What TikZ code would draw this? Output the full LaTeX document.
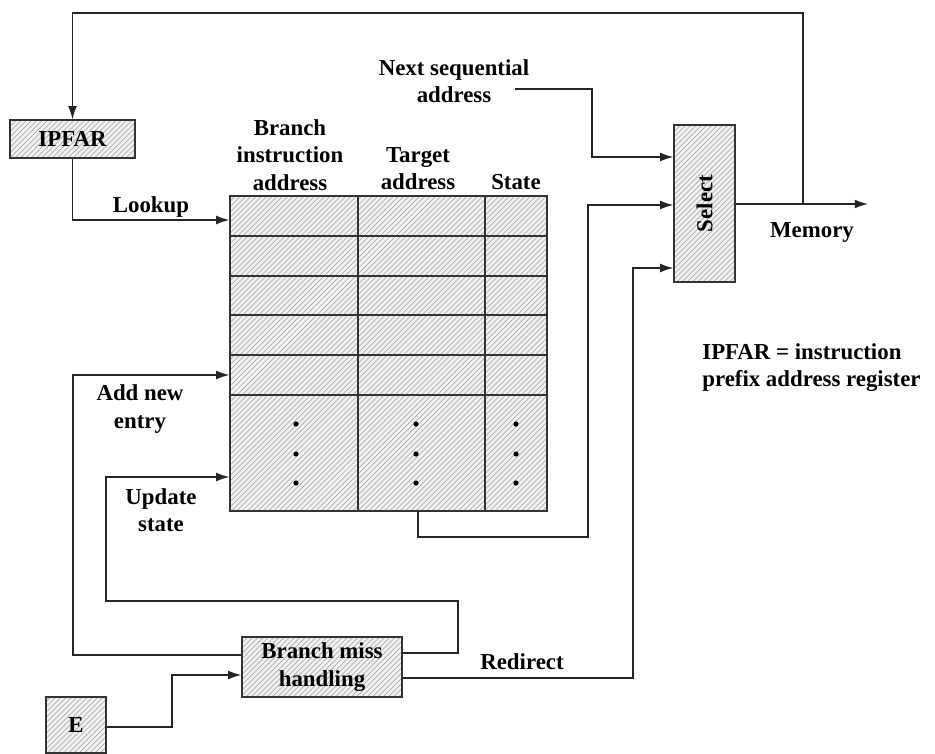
\documentclass[tikz,border=0pt]{standalone}
\usepackage{fontspec}
\setmainfont{Liberation Serif}
\usetikzlibrary{patterns,arrows.meta,positioning}

\begin{document}
\begin{tikzpicture}[x=0.02cm, y=-0.02cm,
    hatched/.style={draw=black!80, line width=0.7pt, preaction={fill=gray!10},
        pattern=north east lines, pattern color=gray!65},
    box/.style={hatched, inner sep=0pt, font=\fontsize{13}{15.5}\selectfont\bfseries, align=center},
    lbl/.style={font=\fontsize{13}{15.5}\selectfont\bfseries, align=center, inner sep=0pt},
    link/.style={draw=black!85, line width=0.8pt, -{Latex[length=7.5pt,width=5pt]}}]
    \useasboundingbox (0,0) rectangle (935,753);

    % Draw boxes
    \node[box, minimum width=2.5cm, minimum height=0.76cm] (ipfar) at (72.5,139) {IPFAR};
    \node[box, minimum width=1.22cm, minimum height=3.14cm] (sel) at (704.5,203.5) {\rotatebox{90}{Select}};
    \node[box, minimum width=3.2cm, minimum height=1.2cm] (bmh) at (322,667) {Branch miss\\handling};
    \node[box, minimum width=1.2cm, minimum height=1.12cm] (e) at (76,725) {E};

    % Branch target table
    \node[hatched, minimum width=6.34cm, minimum height=6.3cm, inner sep=0pt] (btb) at (388.5,353.5) {};
    \foreach \ry in {236,276,315,355,395}
        \draw[black!80, line width=0.7pt] (230,\ry) -- (547,\ry);
    \foreach \cx in {358,485}
        \draw[black!80, line width=0.7pt] (\cx,196) -- (\cx,511);
    \foreach \cx in {296,416,516}
        \foreach \dy in {424,454,483}
            \fill (\cx,\dy) circle (2.6);

    % Column headings
    \node[lbl] (hbia) at (290,155) {Branch\\instruction\\address};
    \node[lbl] (hta) at (418,168.5) {Target\\address};
    \node[lbl] (hst) at (516,182) {State};

    % Labels
    \node[lbl] (nsa) at (454,81) {Next sequential\\address};
    \node[lbl] (lookup) at (151,207) {Lookup};
    \node[lbl] (addnew) at (140,409) {Add new\\entry};
    \node[lbl] (upd) at (161,510) {Update\\state};
    \node[lbl] (mem) at (812,232) {Memory};
    \node[lbl] (redir) at (522,662) {Redirect};
    \node[lbl, align=left, anchor=west] (note) at (702,367.5) {IPFAR = instruction\\prefix address register};

    % Coordinates
    \coordinate (ns) at (515,89);
    \coordinate (tb) at (418,511);
    \coordinate (memtip) at (868,204);
    \coordinate (fb) at (803,204);
    \coordinate (ctop) at (803,13);

    % Connections
    \draw[link] (sel.east |- memtip) -- (memtip);
    \draw[link] (fb) -- (ctop) -| (ipfar.north);
    \draw[link] (ipfar.south) |- (btb.west |- 0,220);
    \draw[link] (ns) -| (592,157) -- (sel.west |- 0,157);
    \draw[link] (tb) |- (588,537) |- (sel.west |- 0,205);
    \draw[link] (bmh.east |- 0,678) -| (633,268) -- (sel.west |- 0,268);
    \draw[link] (bmh.east |- 0,653) -| (458,601) -| (106,477) -- (btb.west |- 0,477);
    \draw[link] (bmh.west |- 0,655) -| (73,375) -- (btb.west |- 0,375);
    \draw[link] (e.east |- 0,727) -| (172,675) -- (bmh.west |- 0,675);
\end{tikzpicture}
\end{document}
